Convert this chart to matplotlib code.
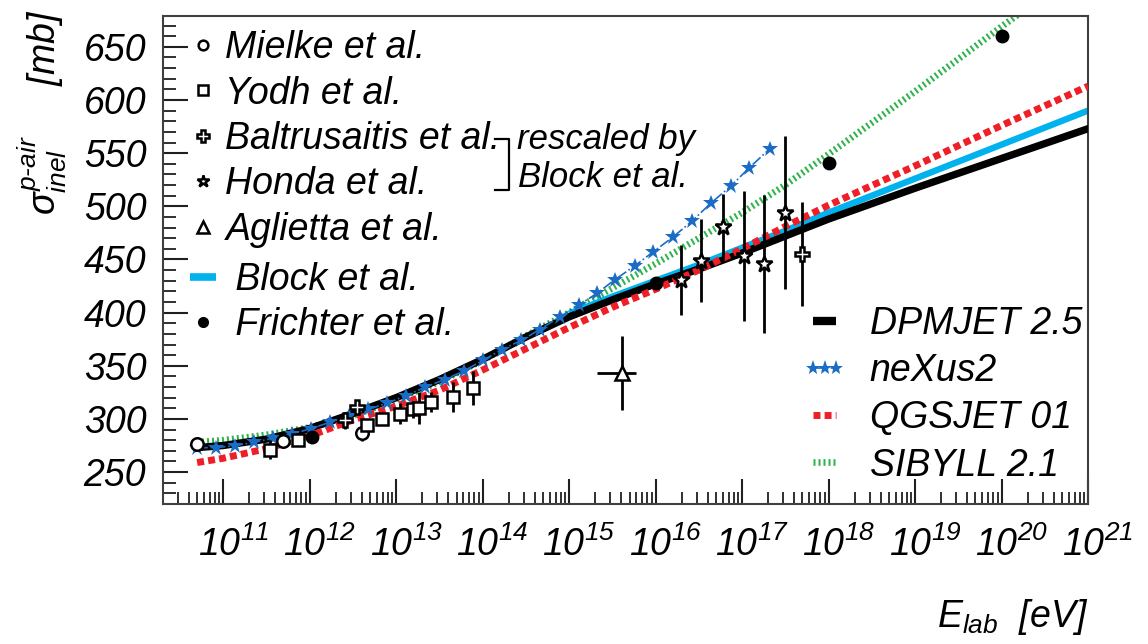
import numpy as np
import matplotlib
matplotlib.use('Agg')
import matplotlib.pyplot as plt
from matplotlib.lines import Line2D
from matplotlib.ticker import LogLocator, MultipleLocator, NullFormatter
from matplotlib.transforms import ScaledTranslation

plt.rcParams['font.family'] = ['Liberation Sans', 'DejaVu Sans']
plt.rcParams['font.style'] = 'italic'
plt.rcParams['mathtext.fontset'] = 'custom'
plt.rcParams['mathtext.rm'] = 'Liberation Sans:italic'
plt.rcParams['mathtext.it'] = 'Liberation Sans:italic'
plt.rcParams['mathtext.bf'] = 'Liberation Sans:italic:bold'

FS = 27

# model curves, knots in lg(E/eV)
lg_knots = [10.7, 11.0, 11.5, 12.0, 12.5, 13.0, 13.5, 14.0, 14.5, 15.0,
            15.5, 16.0, 16.5, 17.0, 17.5, 18.0, 19.0, 20.0, 21.0]
dpmjet = [273, 275, 281, 291, 305, 320, 337, 356, 377, 396,
          412, 427, 441, 456, 472, 488, 517, 545, 573]
qgsjet = [259, 263, 272, 284, 299, 312, 327, 346, 366, 386,
          405, 422, 440, 460, 481, 501, 538, 576, 613]
sibyll = [278, 280, 285, 292, 303, 318, 335, 355, 378, 400,
          423, 446, 470, 494, 520, 549, 608, 669, 728]

lg_block = [15.0, 15.5, 16.0, 16.5, 17.0, 17.5, 18.0, 19.0, 20.0, 21.0]
block = [399, 415, 430, 445, 461, 477, 494, 526, 558, 590]

lg_nexus = [10.70, 10.92, 11.14, 11.36, 11.58, 11.80, 12.02, 12.24, 12.46, 12.68,
            12.90, 13.12, 13.34, 13.56, 13.78, 14.00, 14.22, 14.45, 14.66, 14.89,
            15.11, 15.32, 15.53, 15.76, 15.97, 16.20, 16.42, 16.64, 16.87, 17.08, 17.32]
nexus = [273, 273, 275, 278, 282, 286, 291, 297, 303, 309,
         315, 322, 330, 337, 345, 355, 365, 374, 384, 396,
         407, 418, 431, 444, 457, 471, 486, 503, 519, 536, 554]

# measurements
lg_mielke = [10.70, 11.69, 12.61]
mielke = [276, 279, 287]
mielke_err = [3, 3, 8]

lg_yodh = [11.54, 11.87, 12.66, 12.84, 13.05, 13.20, 13.27, 13.40, 13.66, 13.89]
yodh = [271, 280, 294, 300, 305, 309, 310, 316, 321, 329]
yodh_err = [9, 4, 6, 4, 10, 8, 15, 9, 14, 16]

lg_baltr = [12.41, 12.55, 17.69]
baltr = [299, 311, 455]
baltr_err = [8, 7, 49]

lg_honda = [16.30, 16.53, 16.78, 17.02, 17.25, 17.50]
honda = [431, 449, 481, 453, 446, 494]
honda_err = [33, 39, 31, 61, 65, 72]

e_aglietta = [4.1e15]
aglietta = [343]
aglietta_xerr = [[2.0e15], [1.9e15]]
aglietta_err = [35]

lg_frichter = [12.03, 16.01, 18.0, 20.0]
frichter = [283, 428, 541, 660]

C_BLOCK = '#00b2ee'
C_NEXUS = '#1b6cc4'
C_QGS = '#ee1f26'
C_SIB = '#2fb34b'

E = lambda lg: 10.0 ** np.asarray(lg)

fig = plt.figure(figsize=(11.48, 6.44), dpi=100)
ax = fig.add_axes([163 / 1148, 1 - 504 / 644, 925 / 1148, 488 / 644])
ax.set_xscale('log')

sib_ls = (0, (0.3, 0.45))
qgs_ls = (0, (1.0, 0.6))
ax.plot(E(lg_knots), sibyll, color=C_SIB, lw=4.8, ls=sib_ls, zorder=1)
ax.plot(E(lg_block), block, color=C_BLOCK, lw=4.6, solid_capstyle='butt', zorder=2)
ax.plot(E(lg_knots), dpmjet, color='k', lw=5.3, zorder=3)
ax.plot(E(lg_knots), qgsjet, color=C_QGS, lw=5.0, ls=qgs_ls, dash_capstyle='butt', zorder=4)
ax.plot(E(lg_nexus), nexus, color=C_NEXUS, lw=1.2, ls='-.', marker='*', ms=12,
        mew=0, zorder=5)

ebar = dict(fmt='none', ecolor='k', elinewidth=2, capsize=0, zorder=6)
mk = dict(ls='none', mfc='white', mec='k', mew=1.8, zorder=7)
ax.errorbar(E(lg_mielke), mielke, yerr=mielke_err, **ebar)
ax.plot(E(lg_mielke), mielke, marker='o', ms=9, **mk)
ax.errorbar(E(lg_yodh), yodh, yerr=yodh_err, **ebar)
ax.plot(E(lg_yodh), yodh, marker='s', ms=9, **mk)
ax.errorbar(E(lg_baltr), baltr, yerr=baltr_err, **ebar)
ax.plot(E(lg_baltr), baltr, marker='P', ms=10, **mk)
ax.errorbar(E(lg_honda), honda, yerr=honda_err, **ebar)
ax.plot(E(lg_honda), honda, marker='*', ms=12, **mk)
ax.errorbar(e_aglietta, aglietta, yerr=aglietta_err, xerr=aglietta_xerr, **ebar)
ax.plot(e_aglietta, aglietta, marker='^', ms=10, **mk)
ax.plot(E(lg_frichter), frichter, ls='none', marker='o', ms=9, color='k', zorder=7)

ax.set_xlim(2.02e10, 1e21)
ax.set_ylim(220, 679)

# axes styling
for sp in ax.spines.values():
    sp.set_linewidth(1.5)
    sp.set_color('#404040')
ax.set_xticks(E(range(11, 22)))
ax.set_xticklabels([r'$10^{%d}$' % k for k in range(11, 22)])
ax.xaxis.set_minor_locator(LogLocator(base=10, subs=np.arange(2, 10), numticks=30))
ax.xaxis.set_minor_formatter(NullFormatter())
ax.set_yticks(range(250, 651, 50))
ax.yaxis.set_minor_locator(MultipleLocator(10))
ax.tick_params(which='both', direction='in', color='#202020', labelsize=FS)
ax.tick_params(which='major', length=18, width=1.5)
ax.tick_params(which='minor', length=9, width=1.3)
ax.tick_params(axis='x', which='major', pad=16)
ax.tick_params(axis='y', which='major', pad=12)
shift = ScaledTranslation(10 / 100, 0, fig.dpi_scale_trans)
for lab in ax.get_xticklabels():
    lab.set_transform(lab.get_transform() + shift)

# legends
leg_kw = dict(loc='upper left', frameon=False, fontsize=FS, borderaxespad=0,
              borderpad=0, handlelength=0.7, handletextpad=0.25,
              labelspacing=0.25, numpoints=1)
h_data = [
    Line2D([], [], marker='o', ms=7, **mk),
    Line2D([], [], marker='s', ms=7, **mk),
    Line2D([], [], marker='P', ms=8, **mk),
    Line2D([], [], marker='*', ms=9, **mk),
    Line2D([], [], marker='^', ms=8, **mk),
]
l_data = ['Mielke et al.', 'Yodh et al.', 'Baltrusaitis et al.', 'Honda et al.',
          'Aglietta et al.']
ax.add_artist(ax.legend(h_data, l_data, bbox_to_anchor=(0.029, 0.971), **leg_kw))

h_fit = [
    Line2D([], [], color=C_BLOCK, lw=5.5, solid_capstyle='butt'),
    Line2D([], [], ls='none', marker='o', ms=7, color='k'),
]
l_fit = [' Block et al.', ' Frichter et al.']
ax.add_artist(ax.legend(h_fit, l_fit, bbox_to_anchor=(0.029, 0.496), **leg_kw))

h_mod = [
    Line2D([], [], color='k', lw=6, solid_capstyle='butt'),
    Line2D([], [], color=C_NEXUS, lw=1.2, ls='-.', marker='*', ms=11, mew=0),
    Line2D([], [], color=C_QGS, lw=5.0, ls=qgs_ls, dash_capstyle='butt'),
    Line2D([], [], color=C_SIB, lw=4.8, ls=sib_ls),
]
l_mod = ['DPMJET 2.5', 'neXus2', 'QGSJET 01', 'SIBYLL 2.1']
ax.legend(h_mod, l_mod, loc='upper left', bbox_to_anchor=(0.691, 0.406),
          frameon=False, fontsize=FS, borderaxespad=0, borderpad=0,
          handlelength=1.2, handletextpad=0.6, labelspacing=0.3, numpoints=3)

# bracket for rescaled data
ax.plot([0.359, 0.374, 0.374, 0.359], [0.748, 0.748, 0.643, 0.643],
        transform=ax.transAxes, color='k', lw=1.6, clip_on=False)
ax.text(0.383, 0.746, 'rescaled by', transform=ax.transAxes, fontsize=25,
        va='center', ha='left')
ax.text(0.384, 0.670, 'Block et al.', transform=ax.transAxes, fontsize=25,
        va='center', ha='left')

fig.text(42 / 1148, 1 - 112 / 644, '$\\sigma^{p\u2010air}_{inel}$     [mb]',
         rotation=90, ha='center', va='center', fontsize=FS)
fig.text(1088 / 1148, 17 / 644, '$E_{lab}$  [eV]', ha='right', va='baseline',
         fontsize=FS)

fig.savefig('out.png', dpi=100)
